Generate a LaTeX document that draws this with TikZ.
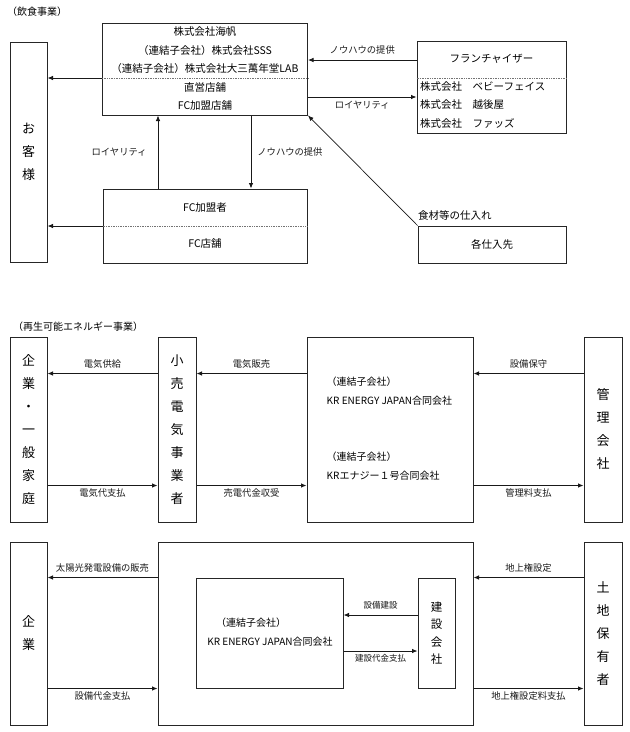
\documentclass[tikz,border=0pt]{standalone}
\usepackage{fontspec}
\setmainfont{Noto Sans CJK JP}
\usetikzlibrary{positioning, arrows.meta}

\begin{document}
\begin{tikzpicture}[
            x=1pt, y=-1pt,
            box/.style={draw=black!85, line width=1pt, inner sep=0pt, align=center},
            arr/.style={-{Latex[length=5.5pt, width=4.5pt]}, line width=0.8pt, black!90},
            sep/.style={densely dotted, black!55, line width=0.7pt},
            lbl/.style={font=\fontsize{9.3}{11}\selectfont, inner sep=2pt},
            slbl/.style={font=\fontsize{8.5}{10}\selectfont, inner sep=2pt},
            ttl/.style={font=\fontsize{10}{12}\selectfont, inner sep=0pt},
            txt/.style={font=\fontsize{10.5}{12}\selectfont},
            vtxt/.style={font=\fontsize{13}{23}\selectfont}
        ]
            \useasboundingbox (0,0) rectangle (630,732);

            % (飲食事業)
            \node[ttl, anchor=west] (title1) at (7,12) {（飲食事業）};
            \node[box, vtxt, minimum width=37pt, minimum height=220pt] (guest) at (28.5,152) {お\\客\\様};
            \node[box, minimum width=205pt, minimum height=92pt, font=\fontsize{10.5}{18.5}\selectfont] (kaihan) at (205,69)
                {株式会社海帆\\（連結子会社）株式会社SSS\\（連結子会社）株式会社大三萬年堂LAB\\直営店舗\\FC加盟店舗};
            \draw[sep] ([yshift=-9pt]kaihan.west) -- ([yshift=-9pt]kaihan.east);
            \node[box, minimum width=149pt, minimum height=92pt] (frch) at (491.5,87) {};
            \node[txt] (frchname) at (491.5,59) {フランチャイザー};
            \node[txt, align=left, inner sep=0pt, anchor=west, font=\fontsize{10.5}{18.5}\selectfont] (frchlist) at (420,105)
                {株式会社　ベビーフェイス\\株式会社　越後屋\\株式会社　ファッズ};
            \draw[sep] ([yshift=9pt]frch.west) -- ([yshift=9pt]frch.east);
            \node[box, minimum width=204pt, minimum height=74pt, font=\fontsize{10.5}{36}\selectfont] (fcmem) at (205,226) {FC加盟者\\FC店舗};
            \draw[sep] (fcmem.west) -- (fcmem.east);
            \node[box, txt, minimum width=148pt, minimum height=37pt] (supply) at (492,244.5) {各仕入先};
            \node[txt, inner sep=0.5pt, anchor=south west] (buy) at ([yshift=4pt]supply.north west) {食材等の仕入れ};

            \draw[arr] ([yshift=-9pt]kaihan.west) coordinate (k1) -- (k1 -| guest.east);
            \draw[arr] ([yshift=27pt]frch.west) coordinate (f1) -- (f1 -| kaihan.east)
                node[lbl, midway, above=3pt] {ノウハウの提供};
            \draw[arr] ([yshift=-10pt]frch.west) coordinate (f2) (f2 -| kaihan.east) -- (f2)
                node[lbl, midway, below=2pt] {ロイヤリティ};
            \draw[arr] (fcmem.west) -- (fcmem.west -| guest.east);
            \draw[arr] ([xshift=-47pt]fcmem.north) coordinate (c1) -- (c1 |- kaihan.south)
                node[lbl, midway, left=9pt] {ロイヤリティ};
            \draw[arr] ([xshift=46pt]kaihan.south) coordinate (c2) -- (c2 |- fcmem.north)
                node[lbl, midway, right=4pt] {ノウハウの提供};
            \draw[arr, line width=0.7pt] (supply.north west) -- (kaihan.south east);

            % (再生可能エネルギー事業)
            \node[ttl, anchor=west] (title2) at (13,327) {（再生可能エネルギー事業）};
            \node[box, vtxt, minimum width=37pt, minimum height=185pt] (cust) at (28.5,429.5) {企\\業\\・\\一\\般\\家\\庭};
            \node[box, vtxt, minimum width=38pt, minimum height=185pt] (retail) at (177,429.5) {小\\売\\電\\気\\事\\業\\者};
            \node[box, minimum width=166pt, minimum height=185pt] (krej) at (390,429.5) {};
            \node[txt, align=left, inner sep=0pt, anchor=west, font=\fontsize{10}{19}\selectfont] (krej1) at ([xshift=20pt, yshift=38pt]krej.west)
                {（連結子会社）\\KR ENERGY JAPAN合同会社};
            \node[txt, align=left, inner sep=0pt, anchor=west, font=\fontsize{10}{19}\selectfont] (krej2) at ([xshift=20pt, yshift=-37pt]krej.west)
                {（連結子会社）\\KRエナジー１号合同会社};
            \node[box, vtxt, minimum width=38pt, minimum height=185pt] (mgmt) at (603,429.5) {管\\理\\会\\社};

            \draw[arr] ([yshift=56pt]retail.west) coordinate (r1) -- (r1 -| cust.east)
                node[lbl, midway, above=3pt] {電気供給};
            \draw[arr] ([yshift=-56pt]cust.east) coordinate (r2) -- (r2 -| retail.west)
                node[lbl, midway, below=1pt] {電気代支払};
            \draw[arr] ([yshift=56pt]krej.west) coordinate (r3) -- (r3 -| retail.east)
                node[lbl, midway, above=3pt] {電気販売};
            \draw[arr] ([yshift=-56pt]retail.east) coordinate (r4) -- (r4 -| krej.west)
                node[lbl, midway, below=1pt] {売電代金収受};
            \draw[arr] ([yshift=56pt]mgmt.west) coordinate (r5) -- (r5 -| krej.east)
                node[lbl, midway, above=3pt] {設備保守};
            \draw[arr] ([yshift=-56pt]krej.east) coordinate (r6) -- (r6 -| mgmt.west)
                node[lbl, midway, below=1pt] {管理料支払};

            % 発電設備の販売
            \node[box, vtxt, minimum width=37pt, minimum height=183pt] (corp) at (28.5,633.5) {企\\業};
            \node[box, minimum width=315pt, minimum height=183pt] (big) at (315.5,633.5) {};
            \node[box, minimum width=147pt, minimum height=110pt] (inner) at (269.5,633) {};
            \node[inner sep=0pt, anchor=west, font=\fontsize{10}{12}\selectfont] (inner1) at (216,623) {（連結子会社）};
            \node[inner sep=0pt, font=\fontsize{10}{12}\selectfont] (inner2) at (270,642) {KR ENERGY JAPAN合同会社};
            \node[box, minimum width=37pt, minimum height=110pt, font=\fontsize{11.5}{17.5}\selectfont] (const) at (436.5,633) {建\\設\\会\\社};
            \node[box, vtxt, minimum width=38pt, minimum height=183pt] (land) at (603,633.5) {土\\地\\保\\有\\者};

            \draw[arr] (big.west |- inner.north) -- (corp.east |- inner.north)
                node[lbl, midway, above=3pt] {太陽光発電設備の販売};
            \draw[arr] (corp.east |- inner.south) -- (big.west |- inner.south)
                node[lbl, midway, below=1pt] {設備代金支払};
            \draw[arr] ([yshift=18pt]const.west) coordinate (s1) -- (s1 -| inner.east)
                node[slbl, midway, above=3pt] {設備建設};
            \draw[arr] ([yshift=-18pt]inner.east) coordinate (s2) -- (s2 -| const.west)
                node[slbl, midway, below=1pt] {建設代金支払};
            \draw[arr] (land.west |- inner.north) -- (big.east |- inner.north)
                node[lbl, midway, above=3pt] {地上権設定};
            \draw[arr] (big.east |- inner.south) -- (land.west |- inner.south)
                node[lbl, midway, below=1pt] {地上権設定料支払};
        \end{tikzpicture}
\end{document}
